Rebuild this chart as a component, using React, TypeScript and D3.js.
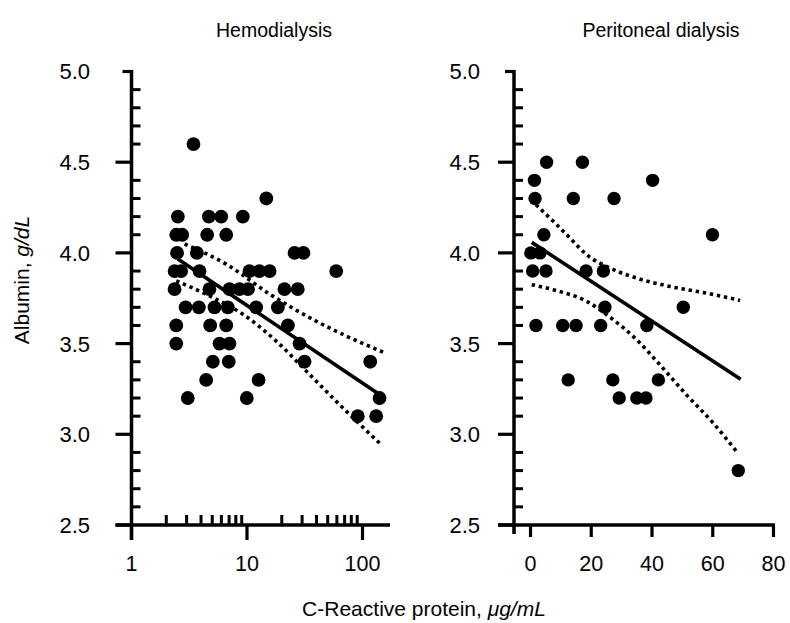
import React from "react";
import * as d3 from "d3";

// ---------- Data ----------
// Hemodialysis: CRP (µg/mL, log scale) vs albumin (g/dL)
const hdCrp = [
  3.44, 14.7,
  2.52, 4.67, 5.98, 9.2,
  2.44, 2.75, 4.52, 6.61,
  2.48, 3.68, 25.8, 30.8,
  2.36, 2.69, 3.88, 10.5, 12.8, 15.7, 59.2,
  2.36, 4.73, 7.05, 8.61, 10.2, 21.1, 27.5,
  2.94, 3.83, 5.23, 6.82, 12.0, 18.5,
  2.44, 4.8, 6.61, 22.6,
  2.44, 5.78, 7.05, 28.5,
  5.06, 6.95, 31.5, 116.7,
  4.43, 12.6,
  3.07, 9.96, 140.4,
  91.0, 131.4,
];
const hdAlb = [
  4.6, 4.3,
  4.2, 4.2, 4.2, 4.2,
  4.1, 4.1, 4.1, 4.1,
  4.0, 4.0, 4.0, 4.0,
  3.9, 3.9, 3.9, 3.9, 3.9, 3.9, 3.9,
  3.8, 3.8, 3.8, 3.8, 3.8, 3.8, 3.8,
  3.7, 3.7, 3.7, 3.7, 3.7, 3.7,
  3.6, 3.6, 3.6, 3.6,
  3.5, 3.5, 3.5, 3.5,
  3.4, 3.4, 3.4, 3.4,
  3.3, 3.3,
  3.2, 3.2, 3.2,
  3.1, 3.1,
];
const hdFitCrp = [2.52, 140.4];
const hdFitAlb = [3.966, 3.22];
const hdUpperCrp = [2.88, 6.61, 15.7, 34.8, 72.3, 154.9];
const hdUpperAlb = [4.049, 3.938, 3.773, 3.643, 3.542, 3.45];
const hdLowerCrp = [2.44, 4.73, 9.2, 17.9, 34.8, 67.5, 140.3];
const hdLowerAlb = [3.846, 3.763, 3.662, 3.514, 3.33, 3.146, 2.952];

// Peritoneal dialysis: CRP (µg/mL, linear) vs albumin (g/dL)
const pdCrp = [
  5.3, 17.1, 1.3, 40.2, 1.5, 14.1, 27.5, 4.4, 59.9, 0.1, 3.1,
  0.7, 5.1, 18.3, 24.0, 24.5, 50.3, 1.8, 10.6, 15.0, 23.1, 38.3,
  12.4, 27.1, 42.1, 29.2, 35.0, 38.0, 68.4,
];
const pdAlb = [
  4.5, 4.5, 4.4, 4.4, 4.3, 4.3, 4.3, 4.1, 4.1, 4.0, 4.0,
  3.9, 3.9, 3.9, 3.9, 3.7, 3.7, 3.6, 3.6, 3.6, 3.6, 3.6,
  3.3, 3.3, 3.3, 3.2, 3.2, 3.2, 2.8,
];
const pdFitCrp = [0.4, 69.2];
const pdFitAlb = [4.058, 3.303];
const pdUpperCrp = [1.8, 7.5, 13.0, 18.5, 26.2, 35.0, 45.9, 58.0, 69.0];
const pdUpperAlb = [4.266, 4.174, 4.082, 3.99, 3.916, 3.861, 3.815, 3.778, 3.738];
const pdLowerCrp = [0.4, 7.5, 18.5, 27.3, 35.0, 42.6, 51.4, 60.2, 67.9];
const pdLowerAlb = [3.825, 3.797, 3.733, 3.631, 3.521, 3.383, 3.217, 3.061, 2.904];

const yMajor = [2.5, 3.0, 3.5, 4.0, 4.5, 5.0];
const yMinor = d3.range(26, 50).map((v) => v / 10).filter((v) => Math.round(v * 10) % 5 !== 0);
const logMajor = [1, 10, 100];
const logMinor = [2, 3, 4, 5, 6, 7, 8, 9, 20, 30, 40, 50, 60, 70, 80, 90];
const linMajor = [0, 20, 40, 60, 80];

const FONT = "'Liberation Sans', Arial, Helvetica, sans-serif";

export default function App() {
  const W = 790;
  const H = 623;
  const y = d3.scaleLinear().domain([2.5, 5.0]).range([525, 71.5]);
  const xL = d3.scaleLog().domain([1, 100]).range([131.5, 362.5]);
  const xR = d3.scaleLinear().domain([0, 80]).range([530.5, 773.5]);

  const axisL = 131.5;
  const axisR = 514;
  const baseY = y(2.5);
  const sw = 3.5;

  const lineFn = (xs: (v: number) => number) =>
    d3
      .line<[number, number]>()
      .x((d) => xs(d[0]))
      .y((d) => y(d[1]))
      .curve(d3.curveMonotoneX);

  const zip = (a: number[], b: number[]) => a.map((v, i) => [v, b[i]] as [number, number]);

  const yAxis = (ax: number, labelX: number) => (
    <g>
      <line x1={ax} x2={ax} y1={y(5.0) - 1.5} y2={baseY} stroke="#000" strokeWidth={sw} />
      {yMajor.map((v) => (
        <line
          key={"M" + v}
          x1={v === 5.0 ? ax - 9 : ax - 16}
          x2={ax}
          y1={y(v)}
          y2={y(v)}
          stroke="#000"
          strokeWidth={3.2}
        />
      ))}
      {yMinor.map((v) => (
        <line key={"m" + v} x1={ax} x2={ax + 9} y1={y(v)} y2={y(v)} stroke="#000" strokeWidth={3} />
      ))}
      {yMajor.map((v) => (
        <text
          key={"t" + v}
          x={labelX}
          y={y(v)}
          dy="0.36em"
          textAnchor="end"
          fontSize={22}
          fontFamily={FONT}
        >
          {v.toFixed(1)}
        </text>
      ))}
    </g>
  );

  const hdPts = zip(hdCrp, hdAlb);
  const pdPts = zip(pdCrp, pdAlb);
  const dotStyle = { fill: "none", stroke: "#000", strokeWidth: 3.6, strokeDasharray: "3.4 3.8" };

  return (
    <svg width={W} height={H} style={{ position: "absolute", left: 0, top: 0, background: "#fff" }}>
      <rect x={0} y={0} width={W} height={H} fill="#fff" />
      {/* Titles */}
      <text x={274} y={37} textAnchor="middle" fontSize={19.5} fontFamily={FONT}>
        Hemodialysis
      </text>
      <text x={661} y={37} textAnchor="middle" fontSize={19.5} fontFamily={FONT}>
        Peritoneal dialysis
      </text>

      {/* Left panel */}
      {yAxis(axisL, 90)}
      <line x1={axisL - 16} x2={390} y1={baseY} y2={baseY} stroke="#000" strokeWidth={sw} />
      <line x1={axisL} x2={axisL} y1={baseY} y2={540} stroke="#000" strokeWidth={sw} />
      {logMajor.map((v) => (
        <line key={"lM" + v} x1={xL(v)} x2={xL(v)} y1={baseY} y2={540} stroke="#000" strokeWidth={3.2} />
      ))}
      {logMinor.map((v) => (
        <line key={"lm" + v} x1={xL(v)} x2={xL(v)} y1={baseY} y2={baseY - 10} stroke="#000" strokeWidth={3} />
      ))}
      {logMajor.map((v) => (
        <text key={"lt" + v} x={xL(v)} y={571} textAnchor="middle" fontSize={21.5} fontFamily={FONT}>
          {String(v)}
        </text>
      ))}
      {hdPts.map((d, i) => (
        <circle key={"hp" + i} cx={xL(d[0])} cy={y(d[1])} r={6.9} fill="#000" />
      ))}
      <path d={lineFn(xL)(zip(hdFitCrp, hdFitAlb)) || ""} fill="none" stroke="#000" strokeWidth={3.6} />
      <path d={lineFn(xL)(zip(hdUpperCrp, hdUpperAlb)) || ""} style={dotStyle} />
      <path d={lineFn(xL)(zip(hdLowerCrp, hdLowerAlb)) || ""} style={dotStyle} />

      {/* Right panel */}
      {yAxis(axisR, 480)}
      <line x1={axisR - 16} x2={775} y1={baseY} y2={baseY} stroke="#000" strokeWidth={sw} />
      <line x1={axisR} x2={axisR} y1={baseY} y2={534} stroke="#000" strokeWidth={sw} />
      {linMajor.map((v) => (
        <line key={"rM" + v} x1={xR(v)} x2={xR(v)} y1={baseY} y2={537} stroke="#000" strokeWidth={3.2} />
      ))}
      {linMajor.map((v) => (
        <text key={"rt" + v} x={xR(v)} y={571} textAnchor="middle" fontSize={21.5} fontFamily={FONT}>
          {String(v)}
        </text>
      ))}
      {pdPts.map((d, i) => (
        <circle key={"pp" + i} cx={xR(d[0])} cy={y(d[1])} r={6.7} fill="#000" />
      ))}
      <path d={lineFn(xR)(zip(pdFitCrp, pdFitAlb)) || ""} fill="none" stroke="#000" strokeWidth={3.6} />
      <path d={lineFn(xR)(zip(pdUpperCrp, pdUpperAlb)) || ""} style={dotStyle} />
      <path d={lineFn(xR)(zip(pdLowerCrp, pdLowerAlb)) || ""} style={dotStyle} />

      {/* Axis titles */}
      <text
        transform="translate(29,280) rotate(-90)"
        textAnchor="middle"
        fontSize={21}
        fontFamily={FONT}
      >
        Albumin, <tspan fontStyle="italic">g/dL</tspan>
      </text>
      <text x={424} y={616} textAnchor="middle" fontSize={21} fontFamily={FONT}>
        C-Reactive protein, <tspan fontStyle="italic">μg/mL</tspan>
      </text>
    </svg>
  );
}
